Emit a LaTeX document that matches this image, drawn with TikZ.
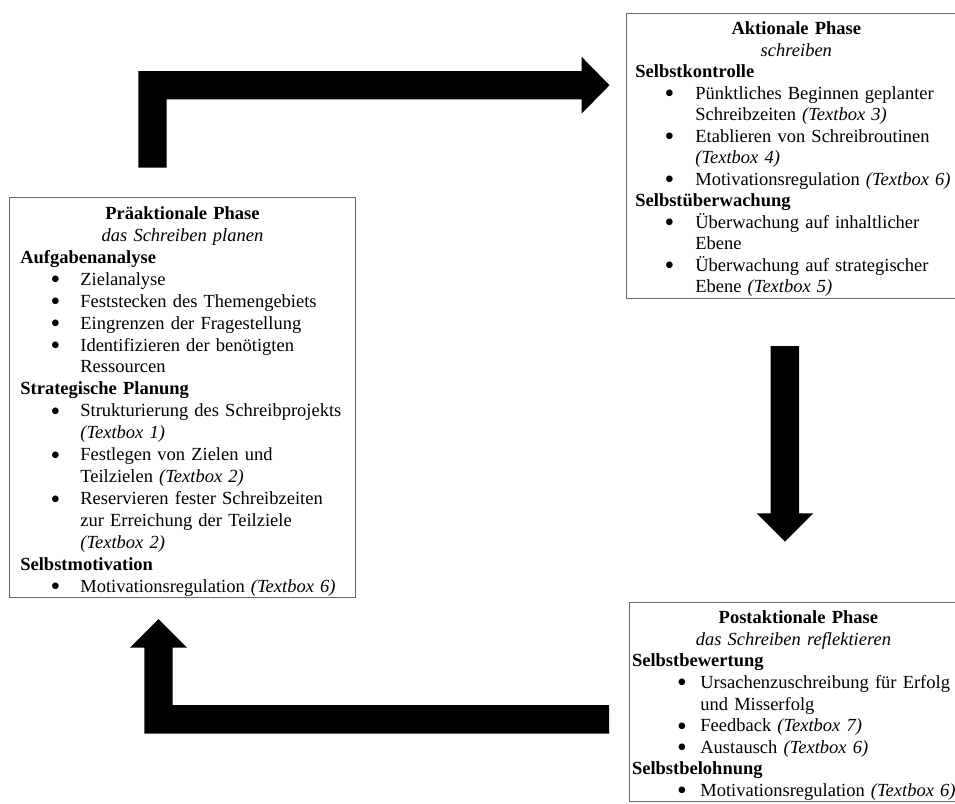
\documentclass[tikz,border=0pt]{standalone}
\usepackage{fontspec}
\setmainfont{Liberation Serif}
\newlength\phInd
\newlength\phGap
\newcommand\phTitle[2]{\par\noindent\makebox[\linewidth]{\rule{0pt}{#1}\bfseries #2}}
\newcommand\phSub[1]{\par\noindent\makebox[\linewidth]{\itshape #1}}
\newcommand\phHead[1]{\par\noindent\mbox{\bfseries #1}}
\newcommand\phDot{\smash{\raisebox{-3.5pt}{\scalebox{1.5}{\textbullet}}}}
\newcommand\phBul[1]{\par\noindent\hspace*{\phInd}\llap{\phDot\hspace{\phGap}}\mbox{#1}}
\newcommand\phCont[1]{\par\noindent\hspace*{\phInd}\mbox{#1}}
\newcommand\phEnd[1]{\rule[-#1]{0pt}{#1}}
\newcommand\tb[1]{\textit{(Textbox #1)}}
\tikzset{
  phase/.style={draw=black!60, line width=0.7pt, anchor=north west, inner ysep=0pt, align=left},
  blockarrow/.style={fill=black, draw=none}
}
\begin{document}
\begin{tikzpicture}[x=1pt,y=-1pt]
\useasboundingbox (0,0) rectangle (955,803);
% Praeaktionale Phase
\node[phase, inner xsep=10.7pt, text width=324.3pt,
      font=\fontsize{18.5}{21.95}\selectfont] (pre) at (9.3,197) {%
  \setlength\phInd{60pt}\setlength\phGap{20pt}%
  \phTitle{19pt}{Präaktionale Phase}
  \phSub{das Schreiben planen}
  \phHead{Aufgabenanalyse}
  \phBul{Zielanalyse}
  \phBul{Feststecken des Themengebiets}
  \phBul{Eingrenzen der Fragestellung}
  \phBul{Identifizieren der benötigten}
  \phCont{Ressourcen}
  \phHead{Strategische Planung}
  \phBul{Strukturierung des Schreibprojekts}
  \phCont{\tb{1}}
  \phBul{Festlegen von Zielen und}
  \phCont{Teilzielen \tb{2}}
  \phBul{Reservieren fester Schreibzeiten}
  \phCont{zur Erreichung der Teilziele}
  \phCont{\tb{2}}
  \phHead{Selbstmotivation}
  \phBul{Motivationsregulation \tb{6}\phEnd{5pt}}};
% Aktionale Phase
\node[phase, inner xsep=9pt, text width=322pt,
      font=\fontsize{18.5}{21.5}\selectfont] (akt) at (626,12.7) {%
  \setlength\phInd{60pt}\setlength\phGap{21pt}%
  \phTitle{19.6pt}{Aktionale Phase}
  \phSub{schreiben}
  \phHead{Selbstkontrolle}
  \phBul{Pünktliches Beginnen geplanter}
  \phCont{Schreibzeiten \tb{3}}
  \phBul{Etablieren von Schreibroutinen}
  \phCont{\tb{4}}
  \phBul{Motivationsregulation \tb{6}}
  \phHead{Selbstüberwachung}
  \phBul{Überwachung auf inhaltlicher}
  \phCont{Ebene}
  \phBul{Überwachung auf strategischer}
  \phCont{Ebene \tb{5}\phEnd{5.5pt}}};
% Postaktionale Phase
\node[phase, inner xsep=2.4pt, text width=332.6pt,
      font=\fontsize{18.5}{21.6}\selectfont] (post) at (629.3,601.7) {%
  \setlength\phInd{68.3pt}\setlength\phGap{13.5pt}%
  \phTitle{21.6pt}{Postaktionale Phase}
  \phSub{das Schreiben reflektieren\hspace*{10pt}}
  \phHead{Selbstbewertung}
  \phBul{Ursachenzuschreibung für Erfolg}
  \phCont{und Misserfolg}
  \phBul{Feedback \tb{7}}
  \phBul{Austausch \tb{6}}
  \phHead{Selbstbelohnung}
  \phBul{Motivationsregulation \tb{6}\phEnd{5.3pt}}};
% block arrows
\fill[blockarrow] (138.3,167.7) -- (138.3,71) -- (581.7,71) -- (581.7,56.9)
  -- (609.5,85.2) -- (581.7,113.5) -- (581.7,99.3) -- (166.7,99.3) -- (166.7,167.7) -- cycle;
\fill[blockarrow] (770.7,346) -- (799,346) -- (799,513.3) -- (813.3,513.3)
  -- (785,541.7) -- (756.7,513.3) -- (770.7,513.3) -- cycle;
\fill[blockarrow] (609,705) -- (609,733.7) -- (144.3,733.7) -- (144.3,647.7)
  -- (130,647.7) -- (158.5,619) -- (187,647.7) -- (172.7,647.7) -- (172.7,705) -- cycle;
\end{tikzpicture}
\end{document}
